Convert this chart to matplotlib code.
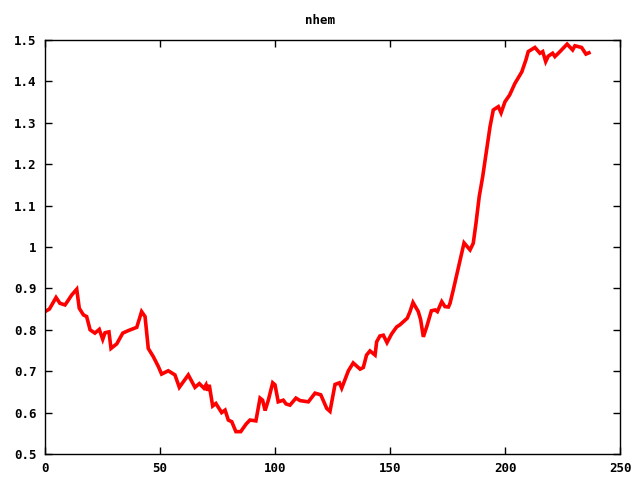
import matplotlib
matplotlib.use("Agg")
import matplotlib.pyplot as plt
from matplotlib.ticker import FuncFormatter

title = "nhem"
x = [0, 1.9, 4.8, 6.5, 8.7, 9.7, 11.6, 13.8, 14.9, 16.7, 18.1, 19.6, 21.7, 23.6, 25.1, 26.1,
     27.8, 28.7, 31.2, 33.8, 36.2, 39.9, 42, 43.5, 44.9, 47.1, 49.3, 50.7, 53.6, 56.5, 58.4,
     62.3, 65.2, 67.1, 69.1, 70, 70.6, 71.4, 72.9, 74.3, 76.8, 78.3, 79.7, 81.2, 83, 85.1,
     87.4, 89.1, 91.7, 93.5, 94.6, 95.7, 97.1, 99, 100, 101.4, 103.6, 104.8, 106.5, 109.1,
     110.9, 114.5, 117.4, 119.9, 122.5, 123.9, 126.1, 128, 129, 130.4, 131.9, 134, 137,
     138.4, 139.8, 141.3, 143.5, 144.2, 145.6, 147.1, 148.7, 150.7, 152.9, 154.3, 157.5,
     158.7, 160, 162.3, 163.3, 164.5, 166, 168, 169.6, 170.6, 172.5, 173.9, 175.4, 176.1,
     177.5, 179.7, 182.2, 184.8, 186.2, 187.4, 188.8, 190.3, 192, 193.5, 194.9, 197.1,
     198.3, 200, 202, 204.3, 207.3, 209.1, 210.1, 213, 215.2, 216.4, 217.7, 218.8, 220.7,
     221.7, 223.9, 227, 229.4, 230.4, 233.3, 235.2, 236.5]
y = [0.844, 0.85, 0.878, 0.864, 0.86, 0.868, 0.884, 0.898, 0.852, 0.836, 0.832, 0.80, 0.792,
     0.801, 0.777, 0.793, 0.795, 0.755, 0.766, 0.792, 0.798, 0.806, 0.844, 0.832, 0.755,
     0.735, 0.711, 0.693, 0.701, 0.691, 0.661, 0.691, 0.661, 0.670, 0.659, 0.667, 0.653,
     0.667, 0.616, 0.622, 0.600, 0.606, 0.582, 0.578, 0.554, 0.554, 0.572, 0.582, 0.580,
     0.635, 0.630, 0.605, 0.630, 0.672, 0.667, 0.626, 0.630, 0.621, 0.618, 0.635, 0.629,
     0.626, 0.647, 0.643, 0.610, 0.603, 0.668, 0.672, 0.659, 0.679, 0.701, 0.720, 0.705,
     0.709, 0.739, 0.749, 0.739, 0.771, 0.785, 0.787, 0.769, 0.790, 0.807, 0.812, 0.828,
     0.844, 0.866, 0.844, 0.825, 0.783, 0.808, 0.846, 0.848, 0.844, 0.868, 0.856, 0.855,
     0.864, 0.896, 0.949, 1.010, 0.993, 1.009, 1.058, 1.122, 1.170, 1.234, 1.291, 1.331,
     1.339, 1.324, 1.351, 1.367, 1.395, 1.423, 1.452, 1.472, 1.482, 1.468, 1.472, 1.448,
     1.461, 1.468, 1.460, 1.472, 1.490, 1.476, 1.486, 1.482, 1.466, 1.469]
xticks = [0, 50, 100, 150, 200, 250]
yticks = [0.5, 0.6, 0.7, 0.8, 0.9, 1.0, 1.1, 1.2, 1.3, 1.4, 1.5]

plt.rcParams['font.family'] = ['DejaVu Sans Mono']
fig = plt.figure(figsize=(6.4, 4.8), dpi=100)
ax = fig.add_axes([45/640, 1 - 454/480, 575/640, 414/480])
ax.plot(x, y, color='#ff0000', linewidth=2.6, solid_joinstyle='miter')
ax.set_xlim(0, 250)
ax.set_ylim(0.5, 1.5)
ax.set_xticks(xticks)
ax.set_yticks(yticks)
ax.yaxis.set_major_formatter(FuncFormatter(lambda v, p: ('%g' % round(v, 2))))
ax.tick_params(direction='in', length=5, width=1, top=True, right=True,
               labelsize=9, colors='black', pad=6)
for lab in ax.get_xticklabels() + ax.get_yticklabels():
    lab.set_fontweight('bold')
for s in ax.spines.values():
    s.set_linewidth(1)
fig.text(0.5, 1 - 20/480, title, ha='center', va='center', fontsize=9, fontweight='bold')
fig.savefig('out.png', dpi=100)
